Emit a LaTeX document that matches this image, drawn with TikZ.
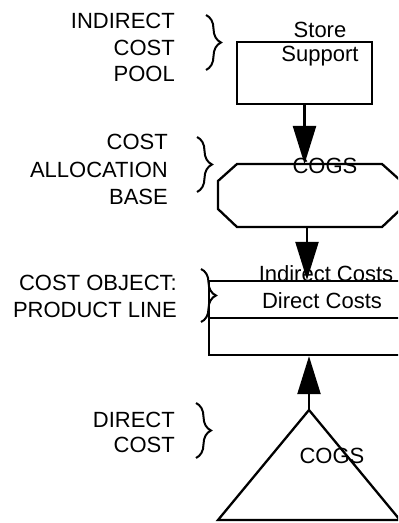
\documentclass[tikz,border=0pt]{standalone}
\usepackage{fontspec}
\setmainfont{Liberation Sans}
\usetikzlibrary{arrows.meta,decorations.pathreplacing}
\begin{document}
\begin{tikzpicture}[x=1bp,y=-1bp,
  lbl/.style={font=\fontsize{22bp}{26.5bp}\selectfont, align=right, inner sep=0pt, anchor=north east},
  txt/.style={font=\fontsize{22bp}{24bp}\selectfont, inner sep=0pt},
  box/.style={draw, line width=2.3bp, inner sep=0pt},
  shapeline/.style={line width=2.3bp, line join=miter},
  flow/.style={line width=2.3bp, -{Triangle[length=38bp,width=23bp]}},
  curly/.style={decorate, decoration={brace, amplitude=15bp, aspect=0.5}, line width=2bp}]
\useasboundingbox (0,0) rectangle (398,523);
\clip (0,0) rectangle (398,523);

% indirect cost pool
\node[box, minimum width=135bp, minimum height=62bp] (store) at (304.5,73) {};
\node[txt, align=center, anchor=north] (storetxt) at (320,22) {Store\\Support};

% cost allocation base (octagon)
\coordinate (octtop) at (305,164);
\coordinate (octbot) at (307,227);
\draw[shapeline] (237,164) -- (382,164) -- (401,181) -- (401,209) -- (382,227)
  -- (237,227) -- (218,209) -- (218,181) -- cycle;
\node[txt] (cogsa) at (325,166) {COGS};

% cost object
\node[box, minimum width=200bp, minimum height=74bp] (obj) at (309,318) {};
\draw[shapeline] (obj.west) -- (obj.east);
\node[txt] (indir) at (326,274) {Indirect Costs};
\node[txt] (dir) at (322,301) {Direct Costs};

% direct cost (triangle)
\coordinate (apex) at (309,410);
\draw[shapeline] (apex) -- (400,520) -- (218,520) -- cycle;
\node[txt] (cogsb) at (332,455.5) {COGS};

% flows
\draw[flow] (store.south) -- (store.south |- octtop);
\draw[flow] (octbot) -- (octbot |- obj.north);
\draw[flow] (apex) -- (apex |- obj.south);

% labels with braces
\node[lbl] (l1) at (175,13) {INDIRECT\\COST\\POOL};
\draw[curly] (206,15) -- (206,70);

\node[lbl, font=\fontsize{22bp}{27.5bp}\selectfont] (l2) at (168,134) {COST\\ALLOCATION\\BASE};
\draw[curly] (197,137) -- (197,192);

\node[lbl, font=\fontsize{22bp}{27bp}\selectfont] (l3) at (177,275) {COST OBJECT:\\PRODUCT LINE};
\draw[curly] (201,269) -- (201,322);

\node[lbl, font=\fontsize{22bp}{25bp}\selectfont] (l4) at (175,412) {DIRECT\\COST};
\draw[curly] (196,403) -- (196,458);
\end{tikzpicture}
\end{document}
